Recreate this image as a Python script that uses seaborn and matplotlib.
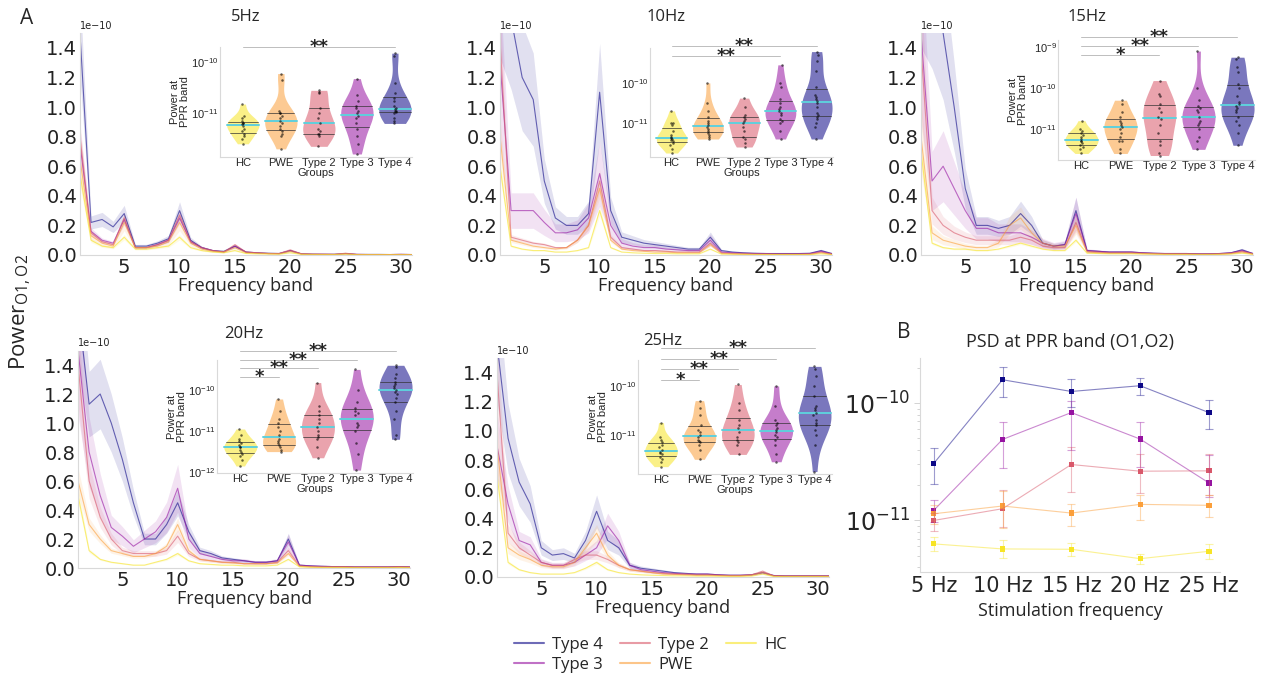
import numpy as np
import pandas as pd
import matplotlib.pyplot as plt
import matplotlib.ticker as mticker
from matplotlib.lines import Line2D
import seaborn as sns

plt.switch_backend('agg')

GROUPS = ['Type 4', 'Type 3', 'Type 2', 'PWE', 'HC']
VIOLIN_ORDER = ['HC', 'PWE', 'Type 2', 'Type 3', 'Type 4']
FREQS = list(range(1, 32))
STIM_TITLES = ['5Hz', '10Hz', '15Hz', '20Hz', '25Hz']
STIM_LABELS = ['5 Hz', '10 Hz', '15 Hz', '20 Hz', '25 Hz']

# ---------------- mean spectra, units of 1e-10, f = 1..31 Hz ----------------
psd_5hz = {
    'Type 4': [1.50, 0.22, 0.24, 0.19, 0.28, 0.06, 0.06, 0.08, 0.11, 0.30, 0.10, 0.05, 0.03, 0.025, 0.06, 0.02,
               0.015, 0.012, 0.01, 0.03, 0.008, 0.006, 0.005, 0.005, 0.01, 0.004, 0.004, 0.004, 0.003, 0.004, 0.003],
    'Type 3': [0.75, 0.16, 0.10, 0.08, 0.24, 0.05, 0.05, 0.07, 0.10, 0.25, 0.09, 0.05, 0.03, 0.02, 0.06, 0.02,
               0.015, 0.01, 0.01, 0.03, 0.008, 0.005, 0.005, 0.004, 0.01, 0.004, 0.003, 0.003, 0.003, 0.004, 0.003],
    'Type 2': [0.80, 0.15, 0.09, 0.07, 0.25, 0.05, 0.05, 0.07, 0.10, 0.27, 0.09, 0.05, 0.03, 0.02, 0.07, 0.02,
               0.015, 0.01, 0.01, 0.035, 0.008, 0.005, 0.005, 0.004, 0.012, 0.004, 0.003, 0.003, 0.003, 0.004, 0.003],
    'PWE':    [0.65, 0.13, 0.08, 0.06, 0.22, 0.05, 0.05, 0.06, 0.09, 0.22, 0.08, 0.04, 0.025, 0.02, 0.05, 0.015,
               0.012, 0.01, 0.008, 0.025, 0.006, 0.005, 0.004, 0.004, 0.008, 0.003, 0.003, 0.003, 0.003, 0.003, 0.002],
    'HC':     [0.55, 0.10, 0.06, 0.05, 0.12, 0.04, 0.04, 0.05, 0.06, 0.12, 0.05, 0.03, 0.02, 0.015, 0.03, 0.01,
               0.008, 0.006, 0.005, 0.015, 0.004, 0.003, 0.003, 0.003, 0.005, 0.002, 0.002, 0.002, 0.002, 0.002, 0.002],
}
psd_10hz = {
    'Type 4': [1.90, 1.60, 1.20, 1.05, 0.50, 0.25, 0.20, 0.20, 0.28, 1.10, 0.30, 0.12, 0.10, 0.08, 0.07, 0.06,
               0.05, 0.04, 0.04, 0.12, 0.03, 0.02, 0.015, 0.012, 0.01, 0.01, 0.01, 0.01, 0.012, 0.03, 0.01],
    'Type 3': [1.30, 0.30, 0.30, 0.30, 0.22, 0.15, 0.15, 0.17, 0.25, 0.55, 0.20, 0.08, 0.06, 0.05, 0.05, 0.04,
               0.035, 0.03, 0.03, 0.10, 0.02, 0.015, 0.012, 0.01, 0.01, 0.008, 0.008, 0.008, 0.01, 0.025, 0.008],
    'Type 2': [1.45, 0.12, 0.10, 0.08, 0.07, 0.05, 0.05, 0.10, 0.20, 0.50, 0.12, 0.05, 0.04, 0.03, 0.03, 0.025,
               0.02, 0.02, 0.02, 0.08, 0.015, 0.01, 0.008, 0.006, 0.006, 0.005, 0.005, 0.005, 0.006, 0.02, 0.005],
    'PWE':    [0.80, 0.10, 0.08, 0.06, 0.05, 0.04, 0.05, 0.10, 0.20, 0.45, 0.10, 0.04, 0.03, 0.025, 0.02, 0.02,
               0.015, 0.015, 0.015, 0.07, 0.01, 0.008, 0.006, 0.005, 0.005, 0.004, 0.004, 0.004, 0.005, 0.015, 0.004],
    'HC':     [0.60, 0.06, 0.04, 0.03, 0.03, 0.02, 0.02, 0.03, 0.05, 0.30, 0.05, 0.02, 0.015, 0.012, 0.01, 0.01,
               0.008, 0.008, 0.008, 0.04, 0.006, 0.005, 0.004, 0.003, 0.003, 0.003, 0.003, 0.003, 0.003, 0.008, 0.003],
}
psd_15hz = {
    'Type 4': [2.00, 1.80, 1.50, 1.00, 0.45, 0.20, 0.20, 0.18, 0.20, 0.28, 0.20, 0.08, 0.06, 0.07, 0.30, 0.03,
               0.025, 0.02, 0.02, 0.02, 0.015, 0.012, 0.01, 0.01, 0.01, 0.008, 0.008, 0.01, 0.015, 0.035, 0.01],
    'Type 3': [1.50, 0.50, 0.60, 0.45, 0.30, 0.18, 0.18, 0.15, 0.15, 0.15, 0.12, 0.08, 0.06, 0.07, 0.28, 0.03,
               0.025, 0.02, 0.02, 0.02, 0.015, 0.012, 0.01, 0.01, 0.01, 0.008, 0.008, 0.01, 0.015, 0.03, 0.01],
    'Type 2': [1.40, 0.30, 0.20, 0.15, 0.12, 0.10, 0.10, 0.10, 0.10, 0.12, 0.10, 0.06, 0.05, 0.05, 0.22, 0.025,
               0.02, 0.015, 0.015, 0.015, 0.012, 0.01, 0.008, 0.008, 0.008, 0.006, 0.006, 0.008, 0.012, 0.025, 0.008],
    'PWE':    [0.80, 0.15, 0.10, 0.08, 0.06, 0.05, 0.05, 0.08, 0.20, 0.25, 0.15, 0.08, 0.06, 0.06, 0.20, 0.02,
               0.015, 0.012, 0.012, 0.012, 0.01, 0.008, 0.006, 0.006, 0.006, 0.005, 0.005, 0.006, 0.01, 0.02, 0.006],
    'HC':     [0.70, 0.08, 0.05, 0.04, 0.04, 0.03, 0.03, 0.04, 0.06, 0.08, 0.06, 0.04, 0.03, 0.03, 0.10, 0.012,
               0.01, 0.008, 0.008, 0.008, 0.006, 0.005, 0.004, 0.004, 0.004, 0.003, 0.003, 0.004, 0.006, 0.012, 0.004],
}
psd_20hz = {
    'Type 4': [1.80, 1.13, 1.20, 1.00, 0.75, 0.45, 0.20, 0.20, 0.30, 0.45, 0.25, 0.12, 0.10, 0.07, 0.06, 0.05,
               0.04, 0.04, 0.05, 0.20, 0.02, 0.015, 0.012, 0.01, 0.01, 0.008, 0.008, 0.008, 0.008, 0.01, 0.008],
    'Type 3': [1.50, 0.80, 0.50, 0.28, 0.22, 0.15, 0.20, 0.25, 0.35, 0.55, 0.20, 0.10, 0.08, 0.06, 0.05, 0.05,
               0.04, 0.04, 0.05, 0.18, 0.02, 0.015, 0.012, 0.01, 0.01, 0.008, 0.008, 0.008, 0.008, 0.01, 0.008],
    'Type 2': [1.40, 0.60, 0.35, 0.20, 0.12, 0.10, 0.10, 0.10, 0.12, 0.22, 0.10, 0.06, 0.05, 0.04, 0.04, 0.03,
               0.03, 0.03, 0.04, 0.12, 0.015, 0.01, 0.008, 0.008, 0.008, 0.006, 0.006, 0.006, 0.006, 0.008, 0.006],
    'PWE':    [0.60, 0.30, 0.20, 0.12, 0.10, 0.08, 0.08, 0.10, 0.15, 0.30, 0.12, 0.06, 0.05, 0.04, 0.035, 0.03,
               0.03, 0.03, 0.035, 0.10, 0.012, 0.008, 0.006, 0.006, 0.006, 0.005, 0.005, 0.005, 0.005, 0.006, 0.005],
    'HC':     [0.50, 0.12, 0.06, 0.04, 0.03, 0.02, 0.02, 0.04, 0.06, 0.10, 0.05, 0.03, 0.025, 0.02, 0.02, 0.015,
               0.015, 0.015, 0.02, 0.06, 0.008, 0.005, 0.004, 0.004, 0.004, 0.003, 0.003, 0.003, 0.003, 0.004, 0.003],
}
psd_25hz = {
    'Type 4': [1.60, 0.95, 0.65, 0.50, 0.20, 0.15, 0.16, 0.13, 0.25, 0.45, 0.25, 0.20, 0.08, 0.06, 0.05, 0.04,
               0.03, 0.025, 0.02, 0.02, 0.015, 0.012, 0.012, 0.015, 0.03, 0.01, 0.008, 0.008, 0.008, 0.008, 0.008],
    'Type 3': [0.90, 0.50, 0.25, 0.22, 0.10, 0.08, 0.08, 0.10, 0.15, 0.20, 0.35, 0.25, 0.08, 0.05, 0.04, 0.03,
               0.025, 0.02, 0.02, 0.02, 0.015, 0.012, 0.012, 0.015, 0.03, 0.01, 0.008, 0.008, 0.008, 0.008, 0.008],
    'Type 2': [1.40, 0.30, 0.20, 0.15, 0.10, 0.08, 0.08, 0.12, 0.15, 0.15, 0.12, 0.08, 0.05, 0.04, 0.03, 0.025,
               0.02, 0.02, 0.015, 0.015, 0.012, 0.01, 0.01, 0.015, 0.04, 0.008, 0.006, 0.006, 0.006, 0.006, 0.006],
    'PWE':    [0.90, 0.20, 0.15, 0.12, 0.08, 0.07, 0.07, 0.10, 0.20, 0.30, 0.15, 0.08, 0.05, 0.04, 0.03, 0.02,
               0.018, 0.015, 0.012, 0.012, 0.01, 0.008, 0.008, 0.012, 0.03, 0.006, 0.005, 0.005, 0.005, 0.005, 0.005],
    'HC':     [0.70, 0.10, 0.05, 0.03, 0.02, 0.02, 0.02, 0.03, 0.06, 0.10, 0.05, 0.03, 0.02, 0.015, 0.012, 0.01,
               0.008, 0.008, 0.006, 0.006, 0.005, 0.004, 0.004, 0.006, 0.02, 0.003, 0.003, 0.003, 0.003, 0.003, 0.003],
}

# relative half-width of the shaded band, order of GROUPS
band_5hz = [0.20, 0.15, 0.12, 0.25, 0.15]
band_10hz = [0.30, 0.40, 0.15, 0.15, 0.12]
band_15hz = [0.30, 0.40, 0.30, 0.30, 0.12]
band_20hz = [0.20, 0.30, 0.20, 0.15, 0.12]
band_25hz = [0.25, 0.25, 0.20, 0.20, 0.12]

# ---------------- per-subject power at PPR band, log10 ----------------
viol_5hz = {
    'HC': [-11.6, -11.5, -11.45, -11.4, -11.35, -11.3, -11.25, -11.22, -11.2, -11.2, -11.15, -11.1, -11.05, -10.82],
    'PWE': [-11.7, -11.45, -11.4, -11.35, -11.3, -11.25, -11.2, -11.15, -11.1, -11.05, -11.0, -11.0, -10.95, -10.35, -10.22],
    'Type 2': [-11.65, -11.45, -11.4, -11.4, -11.35, -11.3, -11.2, -11.1, -11.0, -10.9, -10.6, -10.58, -10.55],
    'Type 3': [-11.8, -11.6, -11.45, -11.3, -11.2, -11.1, -11.05, -11.0, -10.95, -10.9, -10.85, -10.75, -10.65, -10.32],
    'Type 4': [-11.2, -11.15, -11.1, -11.0, -10.98, -10.95, -10.95, -10.92, -10.9, -10.85, -10.75, -10.7, -10.6, -10.4, -9.87, -9.82],
}
viol_10hz = {
    'HC': [-11.75, -11.65, -11.55, -11.5, -11.45, -11.42, -11.4, -11.38, -11.35, -11.3, -11.2, -11.05, -11.0, -11.0, -10.7],
    'PWE': [-11.4, -11.35, -11.3, -11.25, -11.2, -11.15, -11.1, -11.05, -11.0, -10.95, -10.85, -10.7, -10.5, -10.0],
    'Type 2': [-11.6, -11.5, -11.4, -11.35, -11.2, -11.1, -11.0, -10.95, -10.9, -10.85, -10.8, -10.6, -10.38],
    'Type 3': [-11.4, -11.2, -11.0, -10.95, -10.9, -10.8, -10.75, -10.7, -10.65, -10.6, -10.5, -10.4, -10.1, -10.0, -9.55],
    'Type 4': [-11.4, -11.1, -11.0, -10.9, -10.85, -10.8, -10.75, -10.6, -10.5, -10.45, -10.4, -10.35, -10.3, -10.1, -9.7, -9.45, -9.3, -9.22],
}
viol_15hz = {
    'HC': [-11.6, -11.5, -11.45, -11.4, -11.35, -11.3, -11.3, -11.25, -11.2, -11.15, -11.1, -11.05, -11.0, -10.8],
    'PWE': [-11.6, -11.5, -11.3, -11.3, -11.2, -11.1, -11.0, -10.95, -10.9, -10.85, -10.8, -10.7, -10.6, -10.4, -10.3],
    'Type 2': [-11.65, -11.6, -11.4, -11.3, -11.1, -10.9, -10.75, -10.7, -10.6, -10.5, -10.4, -10.2, -10.15, -9.82],
    'Type 3': [-11.5, -11.3, -11.2, -11.0, -10.9, -10.85, -10.8, -10.7, -10.6, -10.55, -10.5, -10.45, -10.3, -10.0, -9.1],
    'Type 4': [-11.4, -11.1, -10.9, -10.8, -10.7, -10.6, -10.55, -10.5, -10.45, -10.4, -10.35, -10.2, -10.0, -9.9, -9.6, -9.5, -9.3, -9.25],
}
viol_20hz = {
    'HC': [-11.85, -11.7, -11.6, -11.55, -11.5, -11.45, -11.4, -11.38, -11.35, -11.3, -11.25, -11.2, -11.1, -10.95],
    'PWE': [-11.5, -11.45, -11.4, -11.35, -11.3, -11.25, -11.2, -11.1, -11.0, -10.9, -10.8, -10.7, -10.5, -10.22],
    'Type 2': [-11.65, -11.4, -11.2, -11.15, -11.1, -11.0, -10.9, -10.8, -10.7, -10.6, -10.5, -10.4, -9.82],
    'Type 3': [-11.95, -11.55, -11.3, -11.0, -10.9, -10.85, -10.8, -10.6, -10.55, -10.5, -10.45, -10.3, -10.0, -9.5],
    'Type 4': [-11.2, -11.1, -10.7, -10.5, -10.3, -10.2, -10.1, -10.05, -10.0, -9.95, -9.9, -9.85, -9.8, -9.7, -9.6, -9.45, -9.4],
}
viol_25hz = {
    'HC': [-11.65, -11.55, -11.5, -11.45, -11.4, -11.38, -11.35, -11.3, -11.25, -11.2, -11.15, -11.1, -11.05, -10.75],
    'PWE': [-11.5, -11.3, -11.2, -11.15, -11.12, -11.1, -11.05, -11.0, -10.95, -10.9, -10.8, -10.6, -10.45, -10.3],
    'Type 2': [-11.4, -11.2, -11.15, -11.1, -11.05, -10.95, -10.85, -10.8, -10.7, -10.5, -10.35, -9.97],
    'Type 3': [-11.55, -11.4, -11.2, -11.1, -11.05, -11.0, -10.95, -10.9, -10.85, -10.8, -10.75, -10.7, -10.4, -10.0],
    'Type 4': [-11.75, -11.2, -11.0, -10.9, -10.8, -10.75, -10.7, -10.6, -10.55, -10.5, -10.45, -10.4, -10.2, -10.0, -9.8, -9.65, -9.6],
}

# significance vs HC: (group index in VIOLIN_ORDER, stars, log10 height)
sig_5hz = [(4, '**', -9.70)]
sig_10hz = [(3, '**', -9.325), (4, '**', -9.075)]
sig_15hz = [(2, '*', -9.195), (3, '**', -8.975), (4, '**', -8.756)]
sig_20hz = [(1, '*', -9.683), (2, '**', -9.463), (3, '**', -9.268), (4, '**', -9.049)]
sig_25hz = [(1, '*', -9.878), (2, '**', -9.653), (3, '**', -9.449), (4, '**', -9.224)]

# ---------------- panel B: PSD at PPR band, log10 mean and error bar ends ----------------
ppr_mean = {
    'Type 4': [-10.514, -9.800, -9.900, -9.851, -10.080],
    'Type 3': [-10.914, -10.309, -10.080, -10.306, -10.680],
    'Type 2': [-11.000, -10.900, -10.523, -10.580, -10.577],
    'PWE':    [-10.943, -10.877, -10.937, -10.863, -10.871],
    'HC':     [-11.200, -11.243, -11.246, -11.326, -11.263],
}
ppr_low = {
    'Type 4': [-10.686, -9.949, -10.030, -9.934, -10.220],
    'Type 3': [-11.014, -10.557, -10.400, -10.543, -10.800],
    'Type 2': [-11.086, -11.057, -10.757, -10.770, -10.780],
    'PWE':    [-11.030, -11.066, -11.046, -11.000, -10.971],
    'HC':     [-11.257, -11.317, -11.300, -11.369, -11.329],
}
ppr_high = {
    'Type 4': [-10.386, -9.694, -9.794, -9.786, -9.971],
    'Type 3': [-10.823, -10.157, -9.980, -10.157, -10.443],
    'Type 2': [-10.940, -10.743, -10.370, -10.430, -10.434],
    'PWE':    [-10.871, -10.749, -10.857, -10.780, -10.786],
    'HC':     [-11.143, -11.171, -11.194, -11.283, -11.200],
}

sns.set_style('white')
plt.rcParams['font.family'] = ['DejaVu Sans']

cmap = plt.get_cmap('plasma')
PALETTE = {'Type 4': cmap(0.0), 'Type 3': cmap(0.32), 'Type 2': cmap(0.56),
           'PWE': cmap(0.78), 'HC': cmap(0.95)}
SPINE = '#d9d9d9'

fig = plt.figure(figsize=(12.63, 6.78), dpi=100)

main_pos = [[0.0633, 0.6239, 0.2629, 0.3274],
            [0.3959, 0.6239, 0.2629, 0.3274],
            [0.7292, 0.6239, 0.2629, 0.3274],
            [0.0618, 0.1622, 0.2629, 0.3208],
            [0.3935, 0.1490, 0.2629, 0.3230]]
inset_pos = [[0.1742, 0.7684, 0.1520, 0.1622],
             [0.5146, 0.7684, 0.1449, 0.1608],
             [0.8377, 0.7640, 0.1560, 0.1770],
             [0.1718, 0.3024, 0.1552, 0.1667],
             [0.5051, 0.3009, 0.1536, 0.1681]]
inset_ylim = [(-11.86, -9.70), (-11.85, -9.13), (-11.76, -8.83), (-12.02, -9.27), (-11.80, -9.47)]

psds = [psd_5hz, psd_10hz, psd_15hz, psd_20hz, psd_25hz]
bands = [band_5hz, band_10hz, band_15hz, band_20hz, band_25hz]
viols = [viol_5hz, viol_10hz, viol_15hz, viol_20hz, viol_25hz]
sigs = [sig_5hz, sig_10hz, sig_15hz, sig_20hz, sig_25hz]


def spectrum_panel(ax, psd, band, title):
    rows = []
    for g in GROUPS:
        for f, v in zip(FREQS, psd[g]):
            rows.append((f, v * 1e-10, g))
    df = pd.DataFrame(rows, columns=['freq', 'power', 'group'])
    sns.lineplot(data=df, x='freq', y='power', hue='group', hue_order=GROUPS, palette=PALETTE,
                 lw=0.8, alpha=0.6, errorbar=None, legend=False, ax=ax)
    for g, frac in zip(GROUPS, band):
        m = np.array(psd[g]) * 1e-10
        ax.fill_between(FREQS, m * (1 - frac), m * (1 + frac), color=PALETTE[g], alpha=0.12, lw=0)
    ax.set_xlim(1, 31)
    ax.set_ylim(0, 1.5e-10)
    ax.set_xticks([5, 10, 15, 20, 25, 30])
    ax.set_yticks(np.arange(0, 1.41, 0.2) * 1e-10)
    ax.tick_params(labelsize=14, length=0, pad=2, labelcolor='#222222')
    ax.yaxis.get_offset_text().set_fontsize(7)
    ax.set_xlabel('Frequency band', fontsize=13, labelpad=0, fontfamily='Open Sans')
    ax.set_ylabel('')
    ax.set_title(title, fontsize=12, pad=9, fontfamily='Open Sans')
    sns.despine(ax=ax)
    for s in ['left', 'bottom']:
        ax.spines[s].set_color(SPINE)


def violin_inset(ax, vals, sig, ylim, show_ylabel, show_xlabel):
    rows = [(g, 10 ** v) for g in VIOLIN_ORDER for v in vals[g]]
    df = pd.DataFrame(rows, columns=['group', 'power'])
    sns.violinplot(data=df, x='group', y='power', hue='group', order=VIOLIN_ORDER, hue_order=VIOLIN_ORDER,
                   palette=PALETTE, cut=0, inner='quart', linewidth=0, saturation=1, density_norm='width',
                   width=0.85, log_scale=True, legend=False, ax=ax)
    for c in ax.collections:
        c.set_alpha(0.55)
    for i, ln in enumerate(ax.lines):
        ln.set_linestyle('-')
        if i % 3 == 1:
            ln.set_color('#5fd0dc')
            ln.set_linewidth(1.4)
        else:
            ln.set_color('#333333')
            ln.set_linewidth(0.5)
    sns.stripplot(data=df, x='group', y='power', order=VIOLIN_ORDER, color='black', size=1.8,
                  jitter=0.04, alpha=0.6, log_scale=True, ax=ax)
    ax.set_ylim(10 ** ylim[0], 10 ** ylim[1])
    ax.set_xlim(-0.6, 4.45)
    ax.yaxis.set_minor_formatter(mticker.NullFormatter())
    ax.tick_params(labelsize=8, length=0, pad=1, labelfontfamily='Liberation Sans')
    ax.set_xlabel('Groups' if show_xlabel else '', fontsize=8, labelpad=0, fontfamily='Liberation Sans')
    ax.set_ylabel('Power at\nPPR band' if show_ylabel else '', fontsize=8, labelpad=1,
                  fontfamily='Liberation Sans', linespacing=0.95)
    ax.set_facecolor('none')
    sns.despine(ax=ax)
    for s in ['left', 'bottom']:
        ax.spines[s].set_color(SPINE)
    for j, star, y in sig:
        yv = 10 ** y
        ax.plot([0, j], [yv, yv], color='#bdbdbd', lw=0.7, clip_on=False)
        ax.text(j / 2, yv, star, ha='center', va='center', fontsize=13, fontweight='bold', clip_on=False)


for k in range(5):
    ax = fig.add_axes(main_pos[k])
    spectrum_panel(ax, psds[k], bands[k], STIM_TITLES[k])
    axi = fig.add_axes(inset_pos[k])
    violin_inset(axi, viols[k], sigs[k], inset_ylim[k], show_ylabel=(k != 1), show_xlabel=(k != 2))

# ---------------- panel B ----------------
axb = fig.add_axes([0.7284, 0.1563, 0.2375, 0.3156])
rows = [(i, 10 ** v, g) for g in GROUPS for i, v in enumerate(ppr_mean[g])]
dfb = pd.DataFrame(rows, columns=['stim', 'power', 'group'])
sns.lineplot(data=dfb, x='stim', y='power', hue='group', hue_order=GROUPS, palette=PALETTE,
             lw=0.8, alpha=0.5, errorbar=None, legend=False, ax=axb)
for g in GROUPS:
    m = 10 ** np.array(ppr_mean[g])
    lo = 10 ** np.array(ppr_low[g])
    hi = 10 ** np.array(ppr_high[g])
    axb.errorbar(range(5), m, yerr=[m - lo, hi - m], fmt='none', ecolor=PALETTE[g],
                 elinewidth=0.8, capsize=3, capthick=0.8, alpha=0.4)
sns.scatterplot(data=dfb, x='stim', y='power', hue='group', hue_order=GROUPS, palette=PALETTE,
                marker='s', s=14, linewidth=0, legend=False, ax=axb)
axb.set_yscale('log')
axb.set_ylim(10 ** -11.44, 10 ** -9.615)
axb.set_xlim(-0.2, 4.16)
axb.set_xticks(range(5))
axb.set_xticklabels(STIM_LABELS)
axb.yaxis.set_minor_formatter(mticker.NullFormatter())
axb.tick_params(axis='x', labelsize=15, length=0, pad=3)
axb.tick_params(axis='y', labelsize=17, pad=3)
axb.tick_params(axis='y', which='both', left=True, color='#cccccc', width=0.6)
axb.tick_params(axis='y', which='major', length=4)
axb.tick_params(axis='y', which='minor', length=2.5)
axb.set_xlabel('Stimulation frequency', fontsize=13, labelpad=4, fontfamily='Open Sans')
axb.set_ylabel('')
axb.set_title('PSD at PPR band (O1,O2)', fontsize=13, pad=8, fontfamily='Open Sans')
sns.despine(ax=axb)
for s in ['left', 'bottom']:
    axb.spines[s].set_color(SPINE)

# ---------------- labels and legend ----------------
fig.text(0.016, 0.973, 'A', fontsize=15, ha='left', va='center', fontfamily='Open Sans')
fig.text(0.710, 0.509, 'B', fontsize=15, ha='left', va='center', fontfamily='Open Sans')
fig.text(0.016, 0.540, r'Power$_{\mathregular{O1,O2}}$', fontsize=16, rotation=90,
         ha='center', va='center', fontfamily='Open Sans')

handles = [Line2D([], [], color=PALETTE[g], lw=1.5, alpha=0.6) for g in GROUPS]
fig.legend(handles, GROUPS, ncol=3, loc='center', bbox_to_anchor=(0.515, 0.034), frameon=False,
           handlelength=1.8, columnspacing=1.0, handletextpad=0.5, labelspacing=0.25,
           prop={'family': 'Open Sans', 'size': 12})

fig.savefig('out.png', dpi=100)
